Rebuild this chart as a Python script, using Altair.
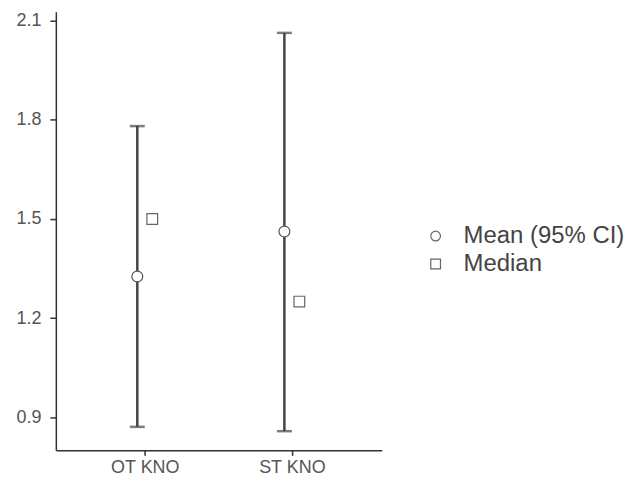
import altair as alt
import pandas as pd

categories = ["OT KNO", "ST KNO"]
means = [1.326, 1.462]
lower = [0.871, 0.858]
upper = [1.781, 2.063]
medians = [1.50, 1.25]
y_ticks = [0.9, 1.2, 1.5, 1.8, 2.1]
stats = ["Mean (95% CI)", "Median"]

df = pd.DataFrame({
    "group": categories,
    "mean": means,
    "lower": lower,
    "upper": upper,
    "median": medians,
    "stat_mean": [stats[0]] * len(categories),
    "stat_median": [stats[1]] * len(categories),
})

x_enc = alt.X(
    "group:N",
    sort=categories,
    scale=alt.Scale(paddingInner=0, paddingOuter=0.108),
    axis=alt.Axis(title=None, labelAngle=0, labelFontSize=18, labelColor="#555555",
                  labelFont="Liberation Sans", tickSize=5, tickColor="#333333",
                  domainColor="#333333", domainWidth=1.5, tickWidth=1.5, labelPadding=3),
)
y_scale = alt.Scale(domain=[0.8, 2.127], nice=False, zero=False)
y_axis = alt.Axis(title=None, values=y_ticks, format=".1f", labelFontSize=18,
                  labelColor="#555555", labelFont="Liberation Sans", tickSize=6,
                  tickColor="#333333", domainColor="#333333", domainWidth=1.5,
                  tickWidth=1.5, labelPadding=9, grid=False)

shape_scale = alt.Scale(domain=stats, range=["circle", "square"])
legend = alt.Legend(
    title=None, orient="none", legendX=369, legendY=213,
    labelFontSize=24, labelColor="#444444", labelFont="Liberation Sans",
    labelLimit=400, symbolSize=95, labelOffset=16, rowPadding=4,
    symbolStrokeColor="#666666", symbolStrokeWidth=1.2, symbolOpacity=1,
)

base = alt.Chart(df)

rule = base.mark_rule(color="#444444", strokeWidth=2.5, xOffset=-8).encode(
    x=x_enc,
    y=alt.Y("lower:Q", scale=y_scale, axis=y_axis),
    y2="upper:Q",
)
cap_lo = base.mark_tick(color="#444444", size=15, thickness=2.5, xOffset=-8).encode(
    x=x_enc, y=alt.Y("lower:Q", scale=y_scale)
)
cap_hi = base.mark_tick(color="#444444", size=15, thickness=2.5, xOffset=-8).encode(
    x=x_enc, y=alt.Y("upper:Q", scale=y_scale)
)
mean_bg = base.mark_point(filled=True, color="white", opacity=1, size=120,
                          shape="circle", xOffset=-8).encode(
    x=x_enc, y=alt.Y("mean:Q", scale=y_scale)
)
median_bg = base.mark_point(filled=True, color="white", opacity=1, size=115,
                            shape="square", xOffset=7).encode(
    x=x_enc, y=alt.Y("median:Q", scale=y_scale)
)
mean_pt = base.mark_point(filled=False, color="#555555", strokeWidth=1.2,
                          size=120, opacity=1, xOffset=-8).encode(
    x=x_enc,
    y=alt.Y("mean:Q", scale=y_scale),
    shape=alt.Shape("stat_mean:N", scale=shape_scale, legend=legend),
)
median_pt = base.mark_point(filled=False, color="#666666", strokeWidth=1.2,
                            size=115, opacity=1, xOffset=7).encode(
    x=x_enc,
    y=alt.Y("median:Q", scale=y_scale),
    shape=alt.Shape("stat_median:N", scale=shape_scale, legend=legend),
)

chart = alt.layer(rule, cap_lo, cap_hi, mean_bg, median_bg, mean_pt, median_pt).properties(
    width=327, height=440,
    padding={"left": 7, "top": 2, "right": 5, "bottom": 5},
    background="white",
).configure_view(stroke=None)

chart.save("out.html", embed_options={"renderer": "svg", "actions": False})
